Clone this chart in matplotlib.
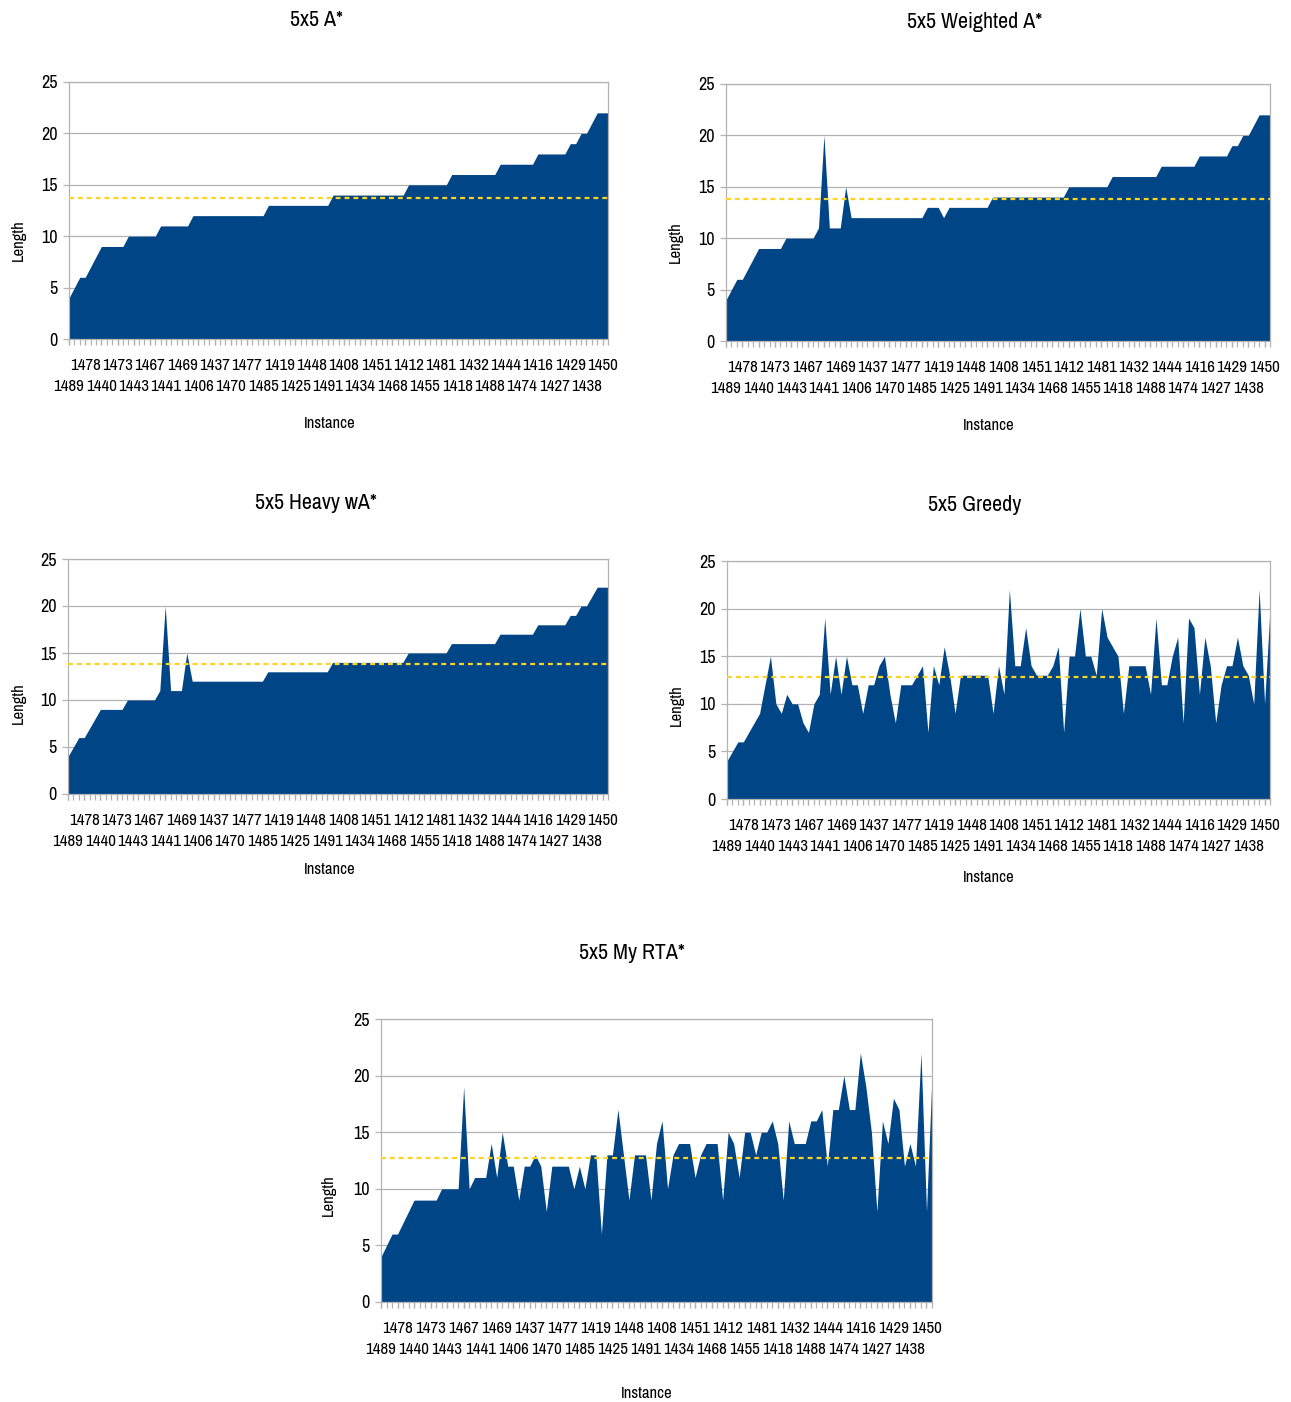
import numpy as np
import matplotlib
matplotlib.use("Agg")
import matplotlib.pyplot as plt

plt.rcParams["font.family"] = ["Archivo Narrow", "DejaVu Sans"]

# Instance labels shown on the x axis (every third instance, sorted by A* length)
tick_labels = ["1489", "1478", "1440", "1473", "1443", "1467", "1441", "1469", "1406",
               "1437", "1470", "1477", "1485", "1419", "1425", "1448", "1491", "1408",
               "1434", "1451", "1468", "1412", "1455", "1481", "1418", "1432", "1488",
               "1444", "1474", "1416", "1427", "1429", "1438", "1450"]

# Solution lengths per instance (101 instances)
astar = [4, 5, 6, 6, 7, 8, 9, 9, 9, 9,
         9, 10, 10, 10, 10, 10, 10, 11, 11, 11,
         11, 11, 11, 12, 12, 12, 12, 12, 12, 12,
         12, 12, 12, 12, 12, 12, 12, 13, 13, 13,
         13, 13, 13, 13, 13, 13, 13, 13, 13, 14,
         14, 14, 14, 14, 14, 14, 14, 14, 14, 14,
         14, 14, 14, 15, 15, 15, 15, 15, 15, 15,
         15, 16, 16, 16, 16, 16, 16, 16, 16, 16,
         17, 17, 17, 17, 17, 17, 17, 18, 18, 18,
         18, 18, 18, 19, 19, 20, 20, 21, 22, 22,
         22]

weighted = [4, 5, 6, 6, 7, 8, 9, 9, 9, 9,
            9, 10, 10, 10, 10, 10, 10, 11, 20, 11,
            11, 11, 15, 12, 12, 12, 12, 12, 12, 12,
            12, 12, 12, 12, 12, 12, 12, 13, 13, 13,
            12, 13, 13, 13, 13, 13, 13, 13, 13, 14,
            14, 14, 14, 14, 14, 14, 14, 14, 14, 14,
            14, 14, 14, 15, 15, 15, 15, 15, 15, 15,
            15, 16, 16, 16, 16, 16, 16, 16, 16, 16,
            17, 17, 17, 17, 17, 17, 17, 18, 18, 18,
            18, 18, 18, 19, 19, 20, 20, 21, 22, 22,
            22]

heavy = [4, 5, 6, 6, 7, 8, 9, 9, 9, 9,
         9, 10, 10, 10, 10, 10, 10, 11, 20, 11,
         11, 11, 15, 12, 12, 12, 12, 12, 12, 12,
         12, 12, 12, 12, 12, 12, 12, 13, 13, 13,
         13, 13, 13, 13, 13, 13, 13, 13, 13, 14,
         14, 14, 14, 14, 14, 14, 14, 14, 14, 14,
         14, 14, 14, 15, 15, 15, 15, 15, 15, 15,
         15, 16, 16, 16, 16, 16, 16, 16, 16, 16,
         17, 17, 17, 17, 17, 17, 17, 18, 18, 18,
         18, 18, 18, 19, 19, 20, 20, 21, 22, 22,
         22]

greedy = [4, 5, 6, 6, 7, 8, 9, 12, 15, 10,
          9, 11, 10, 10, 8, 7, 10, 11, 19, 11,
          15, 11, 15, 12, 12, 9, 12, 12, 14, 15,
          11, 8, 12, 12, 12, 13, 14, 7, 14, 12,
          16, 13, 9, 13, 13, 13, 13, 13, 13, 9,
          14, 11, 22, 14, 14, 18, 14, 13, 13, 13,
          14, 16, 7, 15, 15, 20, 15, 15, 13, 20,
          17, 16, 15, 9, 14, 14, 14, 14, 11, 19,
          12, 12, 15, 17, 8, 19, 18, 11, 17, 14,
          8, 12, 14, 14, 17, 14, 13, 10, 22, 10,
          20]

rta = [4, 5, 6, 6, 7, 8, 9, 9, 9, 9,
       9, 10, 10, 10, 10, 19, 10, 11, 11, 11,
       14, 11, 15, 12, 12, 9, 12, 12, 13, 12,
       8, 12, 12, 12, 12, 10, 12, 10, 13, 13,
       6, 13, 13, 17, 13, 9, 13, 13, 13, 9,
       14, 16, 10, 13, 14, 14, 14, 11, 13, 14,
       14, 14, 9, 15, 14, 11, 15, 15, 13, 15,
       15, 16, 14, 9, 16, 14, 14, 14, 16, 16,
       17, 12, 17, 17, 20, 17, 17, 22, 19, 15,
       8, 16, 14, 18, 17, 12, 14, 12, 22, 8,
       20]

W, H = 1291, 1402
BLUE = "#004586"
YELLOW = "#ffd320"
GREY = "#b3b3b3"

fig = plt.figure(figsize=(W / 100, H / 100), dpi=100)


def ftext(x, y, s, **kw):
    fig.text(x / W, 1 - y / H, s, ha="center", va="center", **kw)


def panel(box, values, title, title_xy, ylab_xy, xlab_xy):
    left, top, right, bottom = box
    ax = fig.add_axes([left / W, 1 - bottom / H, (right - left) / W, (bottom - top) / H])
    x = np.arange(len(values))
    ax.fill_between(x, values, color=BLUE, lw=0, zorder=2)
    ax.axhline(np.mean(values), color=YELLOW, lw=1.6, ls=(0, (2.2, 1.8)), zorder=3)
    ax.set_xlim(0, len(values) - 1)
    ax.set_ylim(0, 25)
    ax.set_yticks(range(0, 26, 5))
    ax.grid(axis="y", color=GREY, lw=0.9, zorder=0)
    for s in ax.spines.values():
        s.set_color(GREY)
        s.set_linewidth(0.9)
    # staggered labels: upper row on major ticks, lower row on minor ticks
    pos = np.arange(0, len(values), 3)[:len(tick_labels)]
    ax.set_xticks(pos[1::2], tick_labels[1::2])
    ax.set_xticks(pos[0::2], tick_labels[0::2], minor=True)
    ax.tick_params(axis="x", which="major", length=4.5, color=GREY, width=0.9, pad=9, labelsize=12.2)
    ax.tick_params(axis="x", which="minor", length=4.5, color=GREY, width=0.9, pad=24.5, labelsize=12.2)
    ax.tick_params(axis="y", length=4, color=GREY, width=0.9, labelsize=13, pad=4)
    # a tick mark for every instance
    sec = ax.secondary_xaxis("bottom")
    sec.set_xticks(x)
    sec.tick_params(length=4.5, color=GREY, width=0.9, labelbottom=False)
    sec.spines["bottom"].set_visible(False)
    ftext(*title_xy, title, fontsize=15.8)
    ftext(*ylab_xy, "Length", fontsize=12, rotation=90)
    ftext(*xlab_xy, "Instance", fontsize=12)
    return ax


panel((69, 82, 608, 339), astar, "5x5 A*", (316, 20), (18, 240), (330, 423))
panel((726, 84, 1270, 341), weighted, "5x5 Weighted A*", (975, 22), (675, 242), (989, 425))
panel((68, 559, 608, 794), heavy, "5x5 Heavy wA*", (316, 503), (18, 703), (330, 870))
panel((727, 561, 1270, 799), greedy, "5x5 Greedy", (975, 505), (676, 705), (989, 877))
panel((381, 1019, 932, 1302), rta, "5x5 My RTA*", (632, 953), (328, 1195), (647, 1393))

fig.savefig("out.png", dpi=100)
